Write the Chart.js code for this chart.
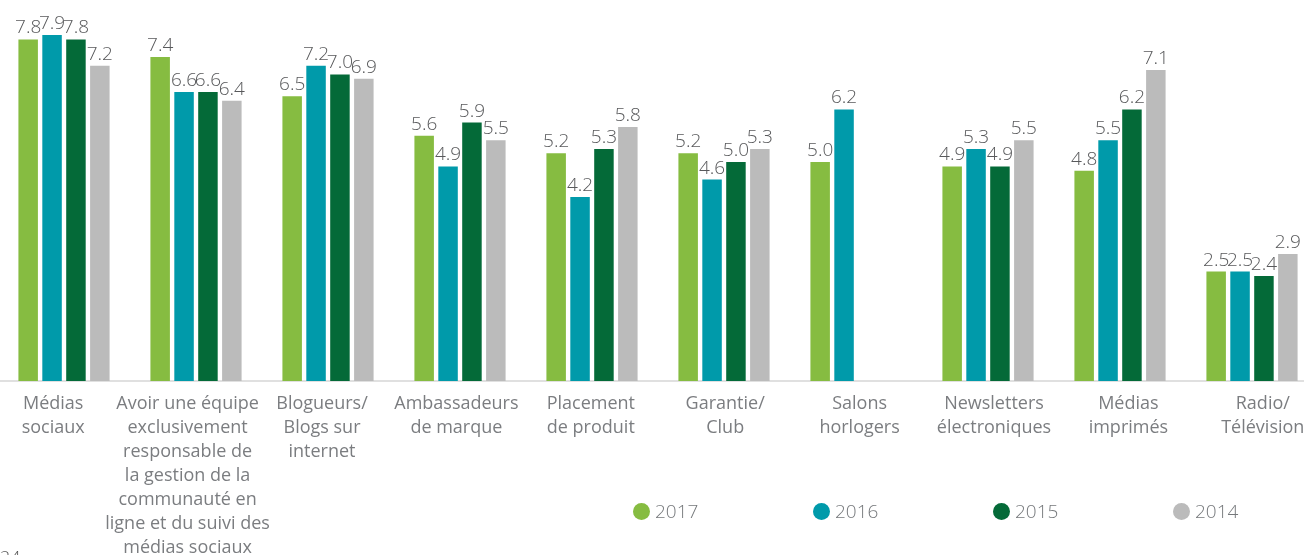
<!DOCTYPE html>
<html lang="fr">
<head>
<meta charset="utf-8">
<script src="https://cdn.jsdelivr.net/npm/chart.js@4.4.1/dist/chart.umd.min.js"></script>
<style>
  html, body { margin: 0; padding: 0; background: #fff; }
  body { width: 1304px; height: 555px; overflow: hidden; position: relative; font-family: "Open Sans", sans-serif; }
  #wrap { position: absolute; left: -2px; top: 0; width: 1320px; height: 555px; }
  #legend { position: absolute; left: 633px; top: 498px; display: flex; }
  .item { width: 180px; display: flex; align-items: center; font-size: 19px; font-weight: 300; color: #75787b; }
  .dot { width: 17px; height: 17px; border-radius: 50%; margin-right: 5px; }
  #page { position: absolute; left: 0; top: 545px; font-size: 18px; color: #555; font-weight: 300; }
</style>
</head>
<body>
<div id="wrap"><canvas id="chart" width="1320" height="555"></canvas></div>
<div id="legend"></div>
<div id="page">24</div>
<script>
const categories = [
  ["Médias", "sociaux"],
  ["Avoir une équipe", "exclusivement", "responsable de", "la gestion de la", "communauté en", "ligne et du suivi des", "médias sociaux"],
  ["Blogueurs/", "Blogs sur", "internet"],
  ["Ambassadeurs", "de marque"],
  ["Placement", "de produit"],
  ["Garantie/", "Club"],
  ["Salons", "horlogers"],
  ["Newsletters", "électroniques"],
  ["Médias", "imprimés"],
  ["Radio/", "Télévision"]
];
const years = ["2017", "2016", "2015", "2014"];
const values2017 = [7.8, 7.4, 6.5, 5.6, 5.2, 5.2, 5.0, 4.9, 4.8, 2.5];
const values2016 = [7.9, 6.6, 7.2, 4.9, 4.2, 4.6, 6.2, 5.3, 5.5, 2.5];
const values2015 = [7.8, 6.6, 7.0, 5.9, 5.3, 5.0, null, 4.9, 6.2, 2.4];
const values2014 = [7.2, 6.4, 6.9, 5.5, 5.8, 5.3, null, 5.5, 7.1, 2.9];
const colors = ["#86bc41", "#009aaa", "#046a38", "#bbbbbb"];

const series = [values2017, values2016, values2015, values2014];

// value labels over each bar
const barValues = {
  id: "barValues",
  afterDatasetsDraw(chart) {
    const ctx = chart.ctx;
    ctx.save();
    ctx.font = "300 19px 'Open Sans'";
    ctx.fillStyle = "#58595b";
    ctx.textAlign = "center";
    ctx.textBaseline = "alphabetic";
    chart.data.datasets.forEach((ds, i) => {
      chart.getDatasetMeta(i).data.forEach((bar, j) => {
        const v = ds.data[j];
        if (v == null) return;
        ctx.fillText(v.toFixed(1), bar.x, bar.y - 6);
      });
    });
    ctx.restore();
  }
};

// the text axis is a little wider than the bar axis
const labelAxisSpan = {
  id: "labelAxisSpan",
  afterLayout(chart) {
    const s = chart.scales.xl;
    s.left = -12;
    s.right = 1332;
    s.width = s.right - s.left;
    s.configure();
  }
};

new Chart(document.getElementById("chart"), {
  type: "bar",
  data: {
    labels: categories,
    datasets: years.map((y, i) => ({
      label: y,
      data: series[i],
      backgroundColor: colors[i],
      xAxisID: "x",
      yAxisID: "y",
      categoryPercentage: 0.724,
      barPercentage: 0.816
    }))
  },
  options: {
    responsive: false,
    devicePixelRatio: 1,
    animation: false,
    layout: { padding: 0 },
    plugins: {
      legend: { display: false },
      tooltip: { enabled: false }
    },
    scales: {
      x: {
        position: "bottom",
        grid: { display: false, drawTicks: false },
        border: { display: true, color: "#e0e0e0", width: 2 },
        ticks: { display: false },
        afterFit(scale) { scale.height = 0; }
      },
      xl: {
        type: "category",
        position: "bottom",
        offset: true,
        grid: { display: false, drawTicks: false },
        border: { display: false },
        ticks: {
          autoSkip: false,
          maxRotation: 0,
          padding: 11,
          color: "#7b7d80",
          font: { family: "'Open Sans'", size: 18, lineHeight: 1.333 }
        },
        afterFit(scale) { scale.height = 174; }
      },
      y: {
        display: false,
        min: 0,
        max: 8.7
      }
    }
  },
  plugins: [barValues, labelAxisSpan]
});

const legend = document.getElementById("legend");
years.forEach((y, i) => {
  const item = document.createElement("div");
  item.className = "item";
  item.innerHTML = `<span class="dot" style="background:${colors[i]}"></span><span>${y}</span>`;
  legend.appendChild(item);
});
</script>
</body>
</html>
